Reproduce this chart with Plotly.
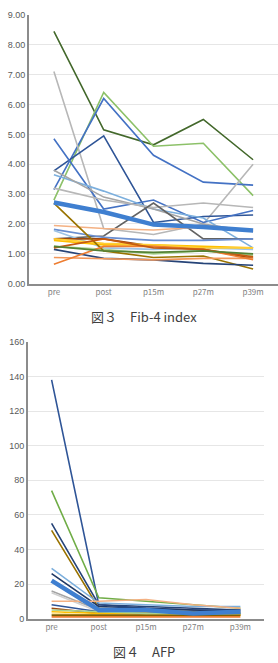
import plotly.graph_objects as go

categories = ["pre", "post", "p15m", "p27m", "p39m"]

# Fib-4 index series (pre, post, p15m, p27m, p39m)
fib_series = [
    ("#43682B", [8.45, 5.15, 4.65, 5.50, 4.15]),
    ("#8CC168", [2.80, 6.40, 4.60, 4.70, 2.95]),
    ("#4472C4", [3.15, 6.20, 4.30, 3.40, 3.30]),
    ("#B7B7B7", [7.10, 1.85, 1.65, 2.00, 4.00]),
    ("#2F5597", [3.78, 4.95, 2.05, 2.25, 2.30]),
    ("#4472C4", [4.85, 2.50, 2.80, 2.05, 2.45]),
    ("#7CAFDD", [3.65, 3.10, 2.50, 2.20, 1.20]),
    ("#A5A5A5", [3.80, 2.90, 2.50, 2.00, 1.75]),
    ("#B7B7B7", [3.20, 2.80, 2.55, 2.70, 2.55]),
    ("#636363", [1.50, 1.60, 2.70, 1.50, 1.50]),
    ("#F4B183", [1.95, 1.85, 1.80, 1.90, 1.75]),
    ("#698ED0", [1.82, 1.55, 1.45, 1.45, 1.50]),
    ("#9DC3E6", [1.78, 1.20, 1.15, 1.20, 1.15]),
    ("#9E480E", [1.50, 1.50, 1.25, 1.15, 0.85]),
    ("#FFC000", [1.45, 1.30, 1.30, 1.25, 1.20]),
    ("#FFCD33", [1.50, 1.35, 1.30, 1.20, 1.20]),
    ("#A9D18E", [1.25, 1.15, 1.00, 1.10, 0.95]),
    ("#997300", [2.70, 1.10, 0.88, 0.93, 0.49]),
    ("#264478", [1.15, 0.85, 0.80, 0.68, 0.62]),
    ("#F1975A", [0.88, 0.85, 0.80, 0.85, 0.85]),
    ("#ED7D31", [0.65, 1.25, 1.25, 1.15, 0.80]),
    ("#C55A11", [1.20, 1.50, 1.20, 1.15, 0.90]),
    ("#548235", [1.25, 1.10, 1.05, 1.10, 1.00]),
]
fib_mean = [2.72, 2.40, 1.98, 1.90, 1.78]

# AFP series (pre, post, p15m, p27m, p39m)
afp_series = [
    ("#2F5597", [138, 8, 6, 5, 5]),
    ("#70AD47", [74, 12, 10, 8, 6]),
    ("#264478", [55, 8, 7, 6, 5]),
    ("#997300", [51, 6, 5, 4, 3]),
    ("#7CAFDD", [29, 9, 8, 7, 7]),
    ("#203864", [26, 7, 6, 5, 4]),
    ("#A5A5A5", [16, 5, 4, 3, 3]),
    ("#D0D0D0", [15, 4, 3, 3, 2]),
    ("#F4B183", [10, 10, 11, 8, 6]),
    ("#2F5597", [8, 4, 4, 3, 3]),
    ("#9E480E", [6, 3, 3, 2, 2]),
    ("#FFC000", [4, 3, 3, 2, 2]),
    ("#FFE699", [3, 2, 2, 2, 2]),
    ("#7F6000", [2, 2, 2, 2, 2]),
    ("#ED7D31", [1, 1, 1, 1, 1]),
    ("#A9D18E", [5, 4, 3, 3, 3]),
]
afp_mean = [22, 5, 5, 3, 4]

fib_ticks = [0, 1, 2, 3, 4, 5, 6, 7, 8, 9]
fib_ticklabels = ["0.00", "1.00", "2.00", "3.00", "4.00", "5.00", "6.00", "7.00", "8.00", "9.00"]
afp_ticks = [0, 20, 40, 60, 80, 100, 120, 140, 160]

MEAN_COLOR = "#3F7FD0"

fig = go.Figure()
for color, vals in fib_series:
    fig.add_trace(go.Scatter(x=categories, y=vals, mode="lines",
                             line=dict(color=color, width=1.6),
                             xaxis="x", yaxis="y", showlegend=False))
fig.add_trace(go.Scatter(x=categories, y=fib_mean, mode="lines",
                         line=dict(color=MEAN_COLOR, width=4.5),
                         xaxis="x", yaxis="y", showlegend=False))
for color, vals in afp_series:
    fig.add_trace(go.Scatter(x=categories, y=vals, mode="lines",
                             line=dict(color=color, width=1.6),
                             xaxis="x2", yaxis="y2", showlegend=False))
fig.add_trace(go.Scatter(x=categories, y=afp_mean, mode="lines",
                         line=dict(color=MEAN_COLOR, width=4.5),
                         xaxis="x2", yaxis="y2", showlegend=False))

W, H = 278, 663
tick_font = dict(family="Liberation Sans, Arial", size=9, color="#595959")
cat_font = dict(family="Noto Sans CJK JP", size=8, color="#808080")
xcommon = dict(type="category", range=[-0.5, 4.5], showgrid=False,
               showline=True, linecolor="#8C8C8C", linewidth=1.5,
               ticks="", tickfont=cat_font, fixedrange=True)
ycommon = dict(showgrid=True, gridcolor="#E6E6E6", gridwidth=1,
               showline=True, linecolor="#8C8C8C", linewidth=2,
               ticks="", tickfont=tick_font, zeroline=False, fixedrange=True)

fig.update_layout(
    width=W, height=H,
    margin=dict(l=0, r=0, t=0, b=0),
    paper_bgcolor="white", plot_bgcolor="white",
    showlegend=False,
    xaxis=dict(domain=[29 / W, 1.0], anchor="y", **xcommon),
    yaxis=dict(domain=[1 - 283 / H, 1 - 10 / H], anchor="x", range=[0, 9],
               tickvals=fib_ticks, ticktext=fib_ticklabels, **ycommon),
    xaxis2=dict(domain=[28 / W, 264 / W], anchor="y2", **xcommon),
    yaxis2=dict(domain=[1 - 623 / H, 1 - 342 / H], anchor="x2", range=[0, 160],
                tickvals=afp_ticks, **ycommon),
    annotations=[
        dict(text="図３　Fib-4 index", x=144 / W, y=1 - 316 / H, xref="paper", yref="paper",
             showarrow=False, xanchor="center", yanchor="middle",
             font=dict(family="Noto Sans CJK JP", size=13, color="#404040")),
        dict(text="図４　AFP", x=144 / W, y=1 - 656 / H, xref="paper", yref="paper",
             showarrow=False, xanchor="center", yanchor="middle",
             font=dict(family="Noto Sans CJK JP", size=13, color="#404040")),
    ],
)

fig.write_html("out.html")
